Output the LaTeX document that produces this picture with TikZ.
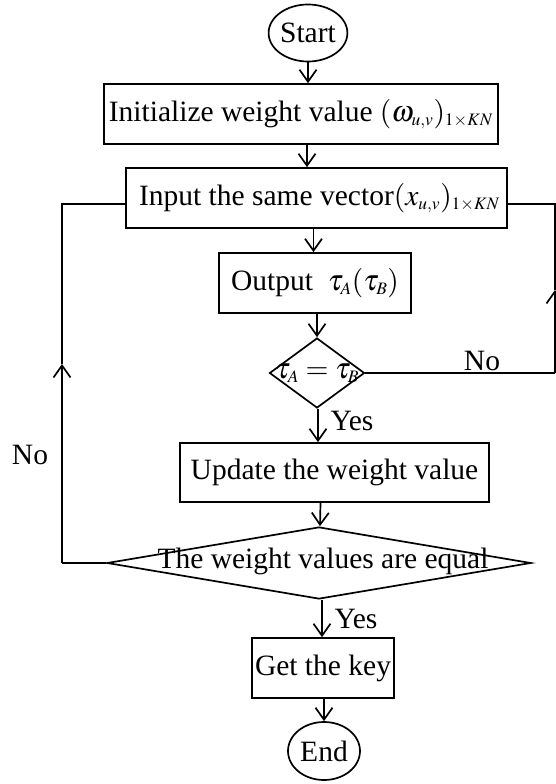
\documentclass[tikz,border=0pt]{standalone}
\usepackage{mathptmx}
\usepackage{fontspec}
\setmainfont{Liberation Serif}
\DeclareMathSizes{29.5}{29.5}{17.5}{13}
\usetikzlibrary{arrows.meta,shapes.geometric}
\tikzset{
  base/.style={draw, line width=1.7pt, inner sep=0pt, font=\fontsize{29.5}{34}\selectfont},
  box/.style={base, rectangle},
  term/.style={base, ellipse},
  dec/.style={base, diamond},
  lbl/.style={inner sep=0pt, font=\fontsize{29.5}{34}\selectfont},
  conn/.style={line width=1.7pt},
  arr/.style={conn, -{Straight Barb[length=12pt,width=17pt,line width=1.7pt]}},
}
\begin{document}
\begin{tikzpicture}[x=1pt,y=-1pt]
\useasboundingbox (0,0) rectangle (556,784);
\node[term, minimum width=72, minimum height=57] (start) at (308,33) {Start};
\node[box, minimum width=394, minimum height=60] (init) at (301,114) {Initialize weight value $(\omega_{u,v})_{1\times KN}$};
\node[box, minimum width=381, minimum height=60] (input) at (316.5,198) {\hspace{6pt}Input the same vector$(x_{u,v})_{1\times KN}$};
\node[box, minimum width=192, minimum height=60] (output) at (315,283) {Output\ \ $\tau_A(\tau_B)$};
\node[dec, minimum width=95, minimum height=70] (tdec) at (317,373) {};
\node[lbl] (ttext) at (317,373) {$\tau_A=\tau_B$};
\node[box, minimum width=309, minimum height=59] (update) at (334.5,472.5) {Update the weight value};
\node[dec, minimum width=424, minimum height=72] (wdec) at (319,563) {};
\node[lbl] (wtext) at (323,561) {The weight values are equal};
\node[box, minimum width=142, minimum height=60] (key) at (323,668) {Get the key};
\node[term, minimum width=72, minimum height=58] (end) at (324,751) {End};

\node[lbl] (noR) at (482,361) {No};
\node[lbl] (noL) at (30,455) {No};
\node[lbl] (yes1) at (352,421) {Yes};
\node[lbl] (yes2) at (356,619) {Yes};

\coordinate (L1) at (62,563);
\coordinate (Lm) at (62,364);
\coordinate (L2) at (62,204);
\coordinate (R1) at (555,373);
\coordinate (Rm) at (555,290);
\coordinate (R2) at (555,204);

\draw[arr] (start.south) -- (start.south |- init.north);
\draw[arr] ([xshift=6pt]init.south) -- ([xshift=6pt]init.south |- input.north);
\draw[arr] ([xshift=-3pt]input.south) -- ([xshift=-3pt]input.south |- output.north);
\draw[arr] ([xshift=2pt]output.south) -- (tdec.north);
\draw[arr] ([xshift=1pt]tdec.south) -- ([xshift=1pt]tdec.south |- update.north);
\draw[arr] ([xshift=-14pt]update.south) -- ([xshift=1pt]wdec.north);
\draw[arr] ([xshift=3pt]wdec.south) -- ([xshift=3pt]wdec.south |- key.north);
\draw[arr] ([xshift=1pt]key.south) -- ([xshift=1pt]key.south |- end.north);

\draw[conn] (wdec.west) -- (L1);
\draw[arr] (L1) -- (Lm);
\draw[conn] (Lm) -- (L2) -- (L2 -| input.west);
\draw[conn] (tdec.east) -- (R1);
\draw[arr] (R1) -- (Rm);
\draw[conn] (Rm) -- (R2) -- (R2 -| input.east);
\end{tikzpicture}
\end{document}
